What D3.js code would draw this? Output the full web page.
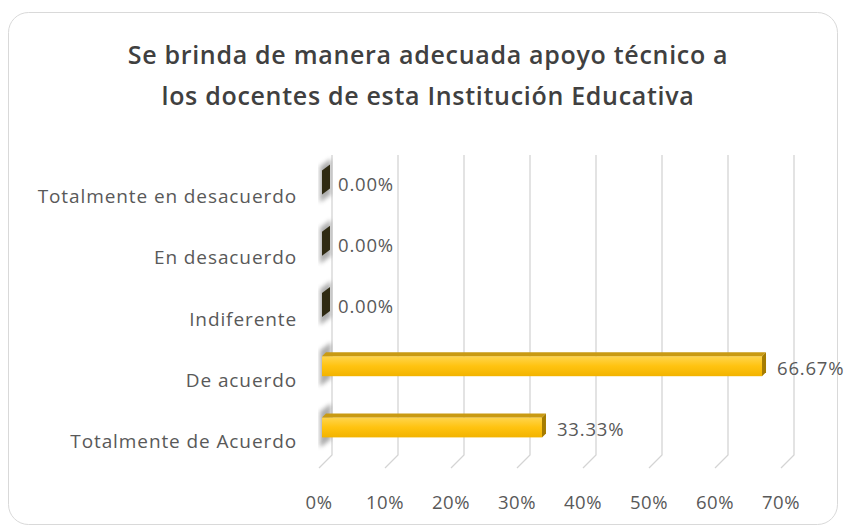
<!DOCTYPE html>
<html>
<head>
<meta charset="utf-8">
<script src="https://cdn.jsdelivr.net/npm/d3@7"></script>
<style>
  html, body { margin: 0; padding: 0; background: #fff; }
  svg { display: block; font-family: "Open Sans", "DejaVu Sans", sans-serif; }
</style>
</head>
<body>
<div id="chart"></div>
<script>
(function(){
// categories, top to bottom as drawn
const categories = ["Totalmente en desacuerdo", "En desacuerdo", "Indiferente", "De acuerdo", "Totalmente de Acuerdo"];
const values = [0, 0, 0, 0.6667, 0.3333];
const valueLabels = ["0.00%", "0.00%", "0.00%", "66.67%", "33.33%"];
const ticks = [0, 0.1, 0.2, 0.3, 0.4, 0.5, 0.6, 0.7];
const titleLines = ["Se brinda de manera adecuada apoyo técnico a", "los docentes de esta Institución Educativa"];

const width = 845, height = 530;
const svg = d3.select("#chart").append("svg")
    .attr("width", width)
    .attr("height", height);

const defs = svg.append("defs");
const faceGrad = defs.append("linearGradient").attr("id", "face").attr("x1", 0).attr("y1", 0).attr("x2", 0).attr("y2", 1);
faceGrad.append("stop").attr("offset", "0%").attr("stop-color", "#ffd54d");
faceGrad.append("stop").attr("offset", "50%").attr("stop-color", "#ffc310");
faceGrad.append("stop").attr("offset", "100%").attr("stop-color", "#f2b300");
defs.append("filter").attr("id", "blur").append("feGaussianBlur").attr("stdDeviation", 2.2);

// outer frame
svg.append("rect")
    .attr("x", 8.5).attr("y", 12.5)
    .attr("width", 829).attr("height", 512)
    .attr("rx", 20)
    .attr("fill", "#fff")
    .attr("stroke", "#d9d9d9");

// title
svg.append("g").selectAll("text")
    .data(titleLines)
    .join("text")
    .attr("x", 428)
    .attr("y", (d, i) => 64 + i * 41)
    .attr("text-anchor", "middle")
    .attr("font-size", 25)
    .attr("font-weight", 600)
    .attr("letter-spacing", 0.7)
    .attr("fill", "#404040")
    .text(d => d);

// scales: x is the front face of the bars, gridlines sit on the back wall
const x = d3.scaleLinear().domain([0, 0.7]).range([322, 784]);
const y = d3.scaleBand().domain(categories).range([166, 472]);
const depth = { dx: 10, dy: -13 };
const wallTop = 155, wallBottom = 455;

// gridlines: back wall verticals + floor diagonals
const grid = svg.append("g").attr("fill", "none").attr("stroke", "#d4d4d4").attr("stroke-width", 1.3);
grid.selectAll("path")
    .data(ticks)
    .join("path")
    .attr("d", t => {
        const bx = x(t) + depth.dx;
        return `M${bx},${wallTop}L${bx},${wallBottom}L${bx - 13},${wallBottom - depth.dy}`;
    });

// tick labels
svg.append("g").selectAll("text")
    .data(ticks)
    .join("text")
    .attr("x", t => x(t) - 3)
    .attr("y", 509)
    .attr("text-anchor", "middle")
    .attr("font-size", 18.5)
    .attr("letter-spacing", 0.5)
    .attr("fill", "#595959")
    .text(d3.format(".0%"));

// category labels
svg.append("g").selectAll("text")
    .data(categories)
    .join("text")
    .attr("x", 297)
    .attr("y", d => y(d) + y.bandwidth() / 2)
    .attr("dy", "0.35em")
    .attr("text-anchor", "end")
    .attr("font-size", 19)
    .attr("letter-spacing", 0.9)
    .attr("fill", "#595959")
    .text(d => d);

// bars (3D: front face, top face, side face)
const barH = 20, bd = 4;
const rows = categories.map((c, i) => ({ cat: c, v: values[i], label: valueLabels[i] }));
const bars = svg.append("g").selectAll("g")
    .data(rows)
    .join("g")
    .attr("transform", d => `translate(0,${y(d.cat) + y.bandwidth() / 2 - 14 - barH / 2})`);

// soft shadow on the left end of every bar
bars.append("path")
    .attr("d", `M${x(0) - 2},${-6}L${x(0) + 9},${-14}L${x(0) + 9},${barH + 2}L${x(0) - 2},${barH + 10}Z`)
    .attr("fill", "#6b6b6b")
    .attr("opacity", 0.55)
    .attr("filter", "url(#blur)");

bars.filter(d => d.v > 0).append("rect")
    .attr("x", x(0))
    .attr("y", 0)
    .attr("width", d => x(d.v) - x(0))
    .attr("height", barH)
    .attr("fill", "url(#face)");

bars.filter(d => d.v > 0).append("path")
    .attr("d", d => `M${x(0)},0L${x(0) + bd},${-bd}L${x(d.v) + bd},${-bd}L${x(d.v)},0Z`)
    .attr("fill", "#c99a12");

bars.filter(d => d.v > 0).append("path")
    .attr("d", d => `M${x(d.v)},0L${x(d.v) + bd},${-bd}L${x(d.v) + bd},${barH - bd}L${x(d.v)},${barH}Z`)
    .attr("fill", "#a67c00");

// zero-value bars show only their dark end cap
bars.filter(d => d.v === 0).append("path")
    .attr("d", `M${x(0)},-2L${x(0) + 8},${-8}L${x(0) + 8},${barH - 4}L${x(0)},${barH + 2}Z`)
    .attr("fill", "#2f2a12");

// value labels
bars.append("text")
    .attr("x", d => x(d.v) + (d.v > 0 ? 15 : 16))
    .attr("y", barH / 2 + 2)
    .attr("dy", "0.35em")
    .attr("font-size", 18.5)
    .attr("letter-spacing", 0.8)
    .attr("fill", "#595959")
    .text(d => d.label);
})();
</script>
</body>
</html>
